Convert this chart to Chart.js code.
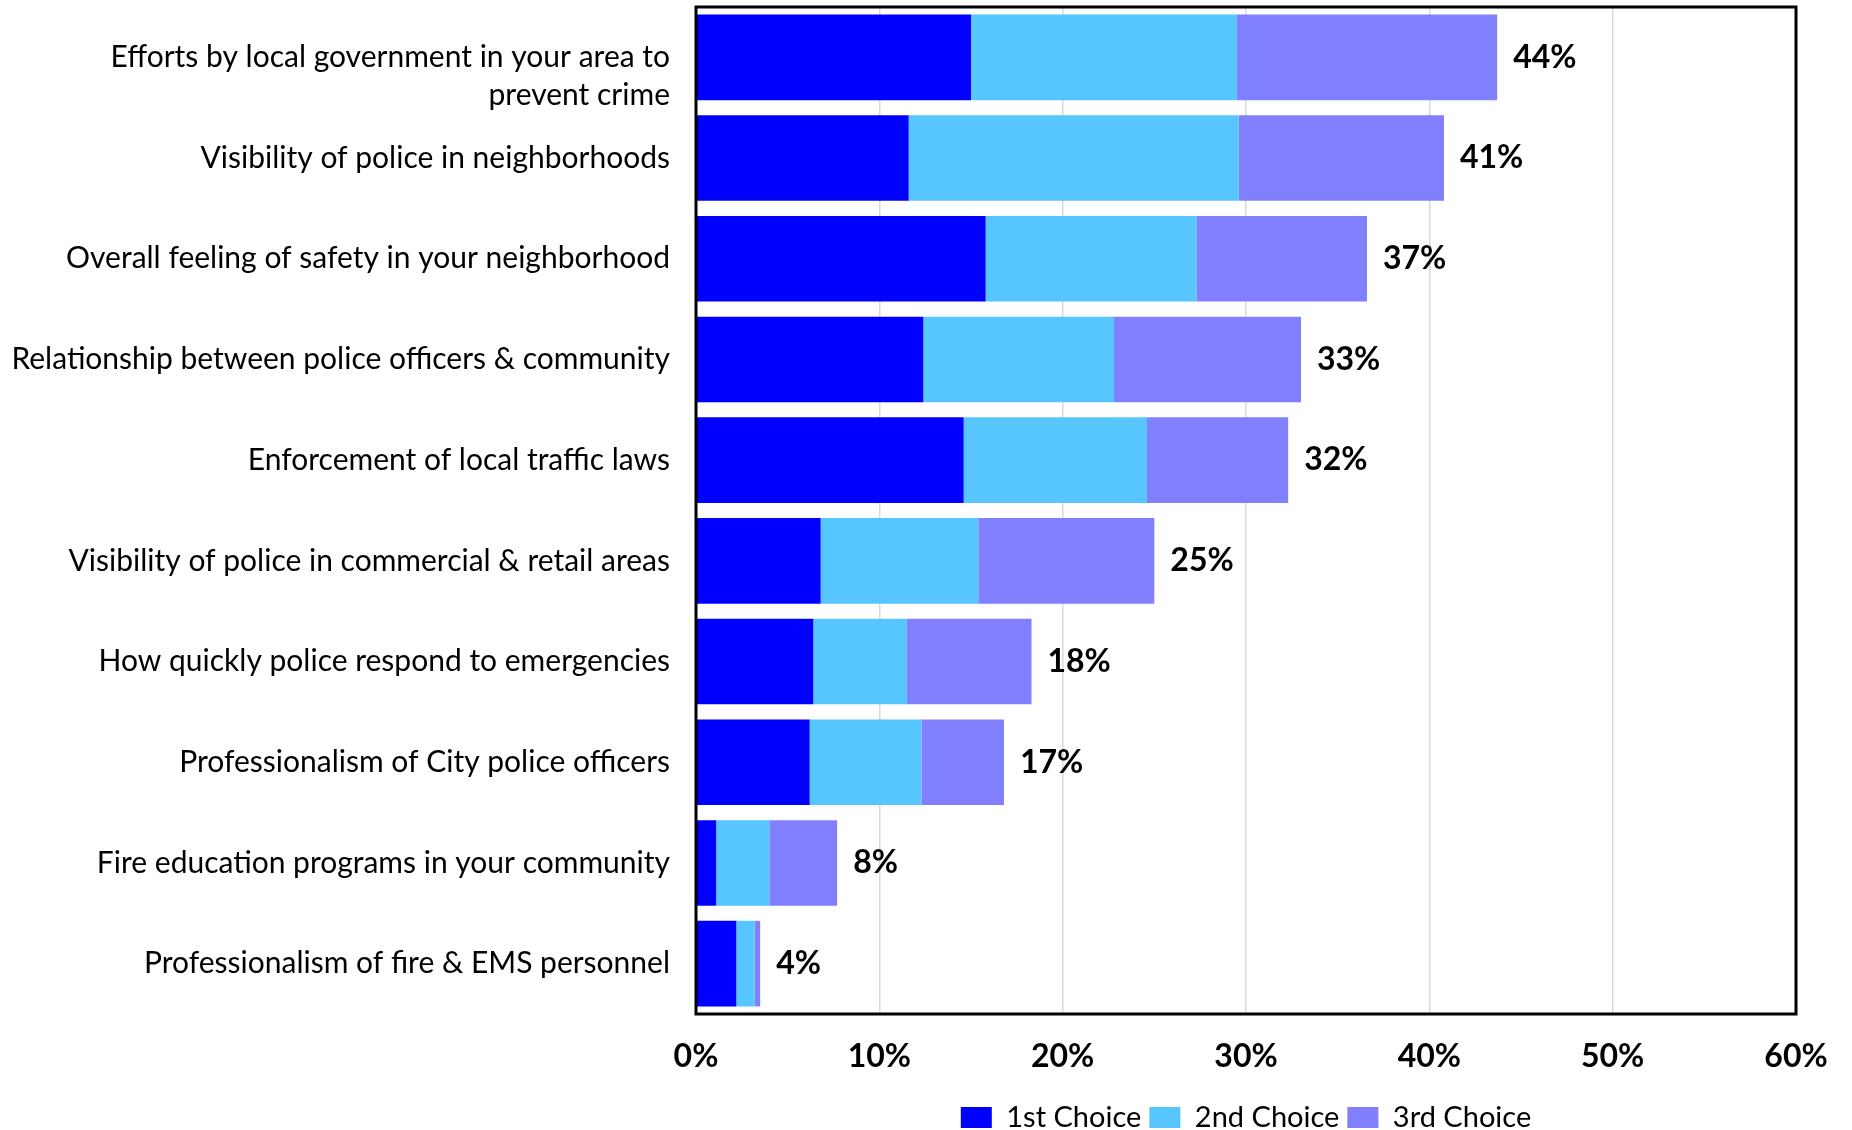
<!DOCTYPE html>
<html>
<head>
<meta charset="utf-8">
<script src="https://cdn.jsdelivr.net/npm/chart.js@4/dist/chart.umd.min.js"></script>
<style>
  body { margin: 0; background: #fff; }
  #wrap { width: 1852px; height: 1130px; }
</style>
</head>
<body>
<div id="wrap"><canvas id="priorityChart"></canvas></div>
<script>
// categories (top to bottom)
const categories = [
    ['', 'Efforts by local government in your area to', 'prevent crime'],
    'Visibility of police in neighborhoods',
    'Overall feeling of safety in your neighborhood',
    'Relationship between police officers & community',
    'Enforcement of local traffic laws',
    'Visibility of police in commercial & retail areas',
    'How quickly police respond to emergencies',
    'Professionalism of City police officers',
    'Fire education programs in your community',
    'Professionalism of fire & EMS personnel'
];
const firstChoice  = [15.0, 11.6, 15.8, 12.4, 14.6, 6.8, 6.4, 6.2, 1.1, 2.2];
const secondChoice = [14.5, 18.0, 11.5, 10.4, 10.0, 8.6, 5.1, 6.1, 2.9, 1.0];
const thirdChoice  = [14.2, 11.2,  9.3, 10.2,  7.7, 9.6, 6.8, 4.5, 3.7, 0.3];
const totals       = [44, 41, 37, 33, 32, 25, 18, 17, 8, 4];
const xTicks = [0, 10, 20, 30, 40, 50, 60];

const fontFamily = 'Lato, "Noto Sans", sans-serif';

// total label right of each stacked bar + frame around plot
const totalsPlugin = {
    id: 'totals',
    afterDatasetsDraw(chart) {
        const ctx = chart.ctx;
        const meta = chart.getDatasetMeta(2);
        ctx.save();
        ctx.font = 'bold 32px ' + fontFamily;
        ctx.fillStyle = '#000';
        ctx.textAlign = 'left';
        ctx.textBaseline = 'middle';
        meta.data.forEach((bar, i) => {
            ctx.fillText(totals[i] + '%', bar.x + 16, bar.y);
        });
        ctx.restore();
    },
    afterDraw(chart) {
        const a = chart.chartArea;
        const ctx = chart.ctx;
        ctx.save();
        ctx.strokeStyle = '#000';
        ctx.lineWidth = 3;
        ctx.strokeRect(a.left, a.top, a.right - a.left, a.bottom - a.top);
        ctx.restore();
    }
};

new Chart(document.getElementById('priorityChart'), {
    type: 'bar',
    data: {
        labels: categories,
        datasets: [
            { label: '1st Choice', data: firstChoice, backgroundColor: '#0000FF' },
            { label: '2nd Choice', data: secondChoice, backgroundColor: '#57C5FE' },
            { label: '3rd Choice', data: thirdChoice, backgroundColor: '#8080FF' }
        ]
    },
    options: {
        indexAxis: 'y',
        responsive: true,
        maintainAspectRatio: false,
        animation: false,
        layout: { padding: { top: 7, right: 56, left: 0, bottom: -12 } },
        datasets: { bar: { categoryPercentage: 0.85, barPercentage: 1.0 } },
        plugins: {
            tooltip: { enabled: false },
            legend: {
                position: 'bottom',
                fullSize: false,
                labels: {
                    boxWidth: 31,
                    boxHeight: 21,
                    padding: 8,
                    color: '#000',
                    font: { family: fontFamily, size: 29 }
                }
            }
        },
        scales: {
            x: {
                stacked: true,
                min: 0,
                max: 60,
                afterBuildTicks(scale) {
                    scale.ticks = xTicks.map(v => ({ value: v }));
                },
                afterFit(scale) { scale.height = 81; },
                ticks: {
                    color: '#000',
                    padding: 23,
                    font: { family: fontFamily, size: 32, weight: 'bold' },
                    callback: v => v + '%'
                },
                grid: { color: '#D9D9D9', lineWidth: 1.5, drawTicks: false },
                border: { display: false }
            },
            y: {
                stacked: true,
                afterFit(scale) {
                    scale.width = 696;
                    scale.paddingTop = 0;
                    scale.paddingBottom = 0;
                },
                ticks: {
                    color: '#000',
                    padding: 18,
                    autoSkip: false,
                    font: { family: fontFamily, size: 30, lineHeight: 1.26 }
                },
                grid: { display: false },
                border: { display: false }
            }
        }
    },
    plugins: [totalsPlugin]
});
</script>
</body>
</html>
